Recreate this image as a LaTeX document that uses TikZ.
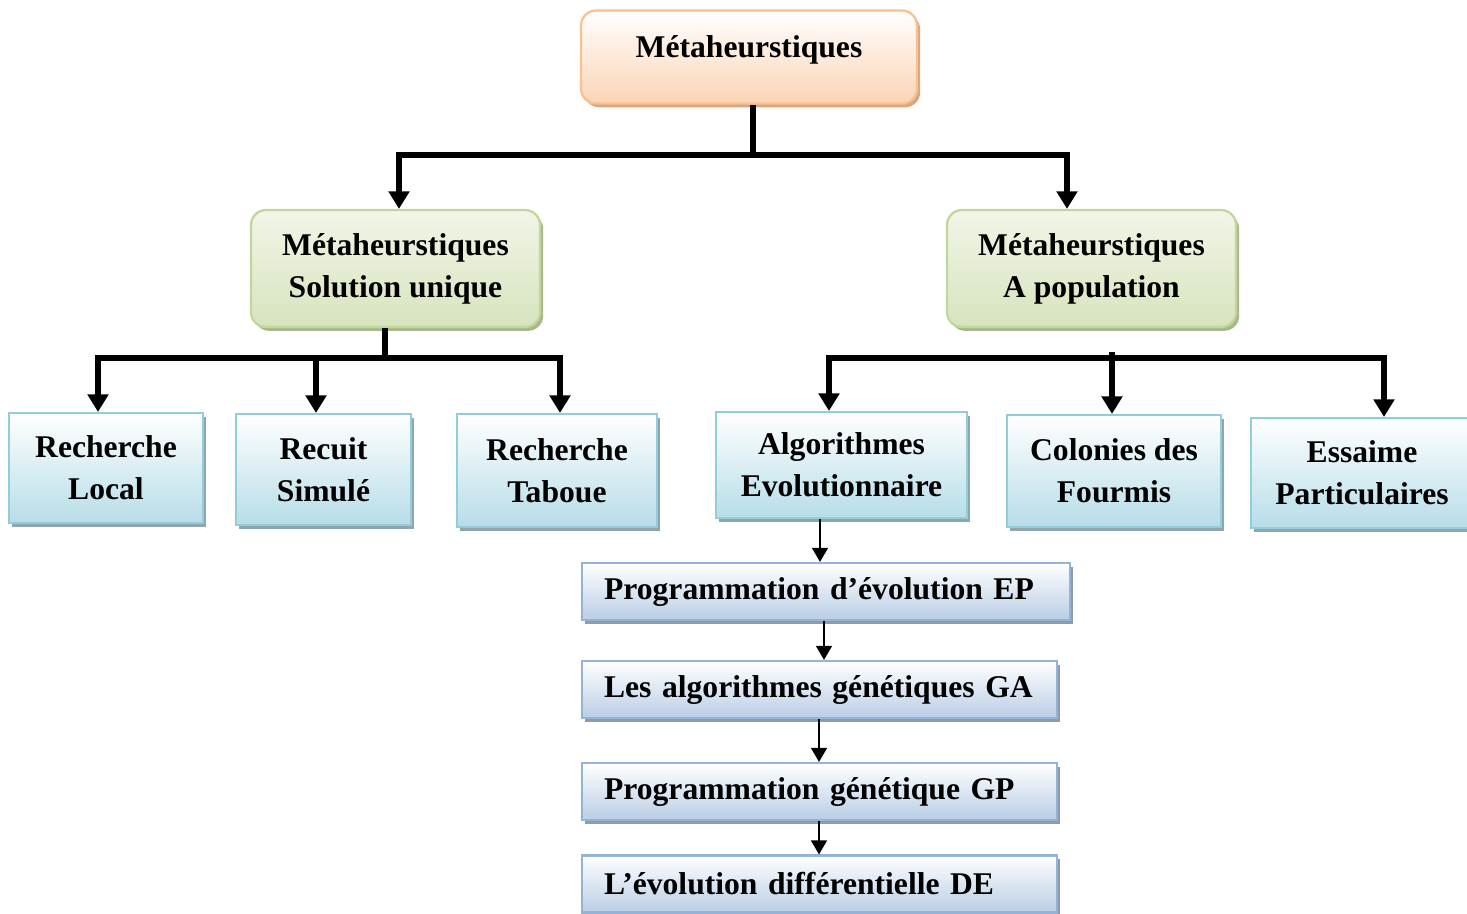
\documentclass[tikz,border=0pt]{standalone}
\usepackage{fontspec}
\setmainfont{Liberation Serif}
\usetikzlibrary{arrows.meta, shadows, positioning}
\definecolor{orbord}{HTML}{FAC090}
\definecolor{orfond}{HTML}{FBD5B5}
\definecolor{orombre}{HTML}{D9A782}
\definecolor{vebord}{HTML}{C3D69B}
\definecolor{vefond}{HTML}{D7E4BD}
\definecolor{veombre}{HTML}{A9B78D}
\definecolor{blbord}{HTML}{92CDDC}
\definecolor{blfond}{HTML}{B7DDE8}
\definecolor{blombre}{HTML}{8FA6AD}
\definecolor{lvbord}{HTML}{95B3D7}
\definecolor{lvfond}{HTML}{B9CDE5}
\definecolor{lvombre}{HTML}{8D9BAD}
\tikzset{
	x=0.02cm, y=-0.02cm, % une unite = un pixel de l'image
	every node/.style={font=\bfseries\fontsize{18}{23.8}\selectfont, align=center}, % texte en gras
	grosse/.style={line width=3pt, -{Triangle[length=10pt,width=11.5pt]}}, % fleches epaisses
	fine/.style={line width=1.1pt, -{Triangle[length=8pt,width=9pt]}}, % fleches fines
	racine/.style={draw=orbord, line width=1.3pt, rounded corners=0.3cm, top color=white, bottom color=orfond,
		drop shadow={shadow xshift=1.8pt, shadow yshift=-2.2pt, fill=orombre, opacity=1}}, % boite du haut
	famille/.style={draw=vebord, line width=1.3pt, rounded corners=0.3cm, top color=vefond!35, bottom color=vefond,
		drop shadow={shadow xshift=1.8pt, shadow yshift=-2.2pt, fill=veombre, opacity=1}}, % boites vertes
	methode/.style={draw=blbord, line width=1.2pt, top color=white, bottom color=blfond,
		drop shadow={shadow xshift=1.8pt, shadow yshift=-2.2pt, fill=blombre, opacity=1}}, % boites bleues
	variante/.style={draw=lvbord, line width=1.2pt, top color=white, bottom color=lvfond, anchor=west,
		inner xsep=0.44cm, minimum height=1.14cm, align=left,
		drop shadow={shadow xshift=1.8pt, shadow yshift=-2.2pt, fill=lvombre, opacity=1}} % boites du bas
}

\begin{document}
\begin{tikzpicture}
	\useasboundingbox (0,0) rectangle (1467,913);
	\node[racine, minimum width=6.72cm, minimum height=1.86cm, text height=14pt, text depth=14pt] (meta) at (749,57) {Métaheurstiques};
	\node[famille, minimum width=5.78cm, minimum height=2.34cm] (unique) at (395.5,268.5) {Métaheurstiques\\Solution unique};
	\node[famille, minimum width=5.78cm, minimum height=2.34cm] (popul) at (1091.5,268.5) {Métaheurstiques\\A population};
	\node[methode, minimum width=3.88cm, minimum height=2.2cm] (local) at (106,468) {Recherche\\Local};
	\node[methode, minimum width=3.5cm, minimum height=2.22cm] (recuit) at (323.5,469.5) {Recuit\\Simulé};
	\node[methode, minimum width=4cm, minimum height=2.26cm] (taboue) at (557,470.5) {Recherche\\Taboue};
	\node[methode, minimum width=5.02cm, minimum height=2.12cm] (evol) at (841.5,465) {Algorithmes\\Evolutionnaire};
	\node[methode, minimum width=4.28cm, minimum height=2.24cm] (fourmis) at (1114,471) {Colonies des\\Fourmis};
	\node[methode, minimum width=4.44cm, minimum height=2.2cm] (essaim) at (1362,473) {Essaime\\Particulaires};
	\node[variante, text width=8.88cm] (ep) at (581,591.5) {Programmation d’évolution EP};
	\node[variante, text width=8.62cm] (ga) at (581,689.5) {Les algorithmes génétiques GA};
	\node[variante, text width=8.62cm] (gp) at (581,791.5) {Programmation génétique GP};
	\node[variante, text width=8.62cm] (de) at (581,884) {L’évolution différentielle DE};
	% premier niveau
	\coordinate (j1) at (753,155);
	\coordinate (a1) at (399,155);
	\coordinate (a2) at (1067,155);
	\draw[line width=3pt] (meta.south -| j1) -- (j1);
	\draw[grosse] (j1) -- (a1) -- (a1 |- unique.north);
	\draw[grosse] (j1) -- (a2) -- (a2 |- popul.north);
	% solution unique
	\coordinate (j2) at (385,358);
	\coordinate (b1) at (98,358);
	\coordinate (b2) at (316,358);
	\coordinate (b3) at (560,358);
	\draw[line width=3pt] (unique.south -| j2) -- (j2);
	\draw[grosse] (j2) -- (b1) -- (b1 |- local.north);
	\draw[grosse] (j2) -- (b3) -- (b3 |- taboue.north);
	\draw[grosse] (b2) -- (b2 |- recuit.north);
	% a population
	\coordinate (c1) at (829,358);
	\coordinate (c2) at (1112,352);
	\coordinate (c3) at (1384,358);
	\draw[grosse] (c3) -- (c1) -- (c1 |- evol.north);
	\draw[grosse] (c1) -- (c3) -- (c3 |- essaim.north);
	\draw[grosse] (c2) -- (c2 |- fourmis.north);
	% algorithmes evolutionnaires
	\coordinate (d1) at (820,0);
	\coordinate (d2) at (824,0);
	\coordinate (d3) at (819,0);
	\draw[fine] (evol.south -| d1) -- (ep.north -| d1);
	\draw[fine] (ep.south -| d2) -- (ga.north -| d2);
	\draw[fine] (ga.south -| d3) -- (gp.north -| d3);
	\draw[fine] (gp.south -| d3) -- (de.north -| d3);
\end{tikzpicture}
\end{document}
